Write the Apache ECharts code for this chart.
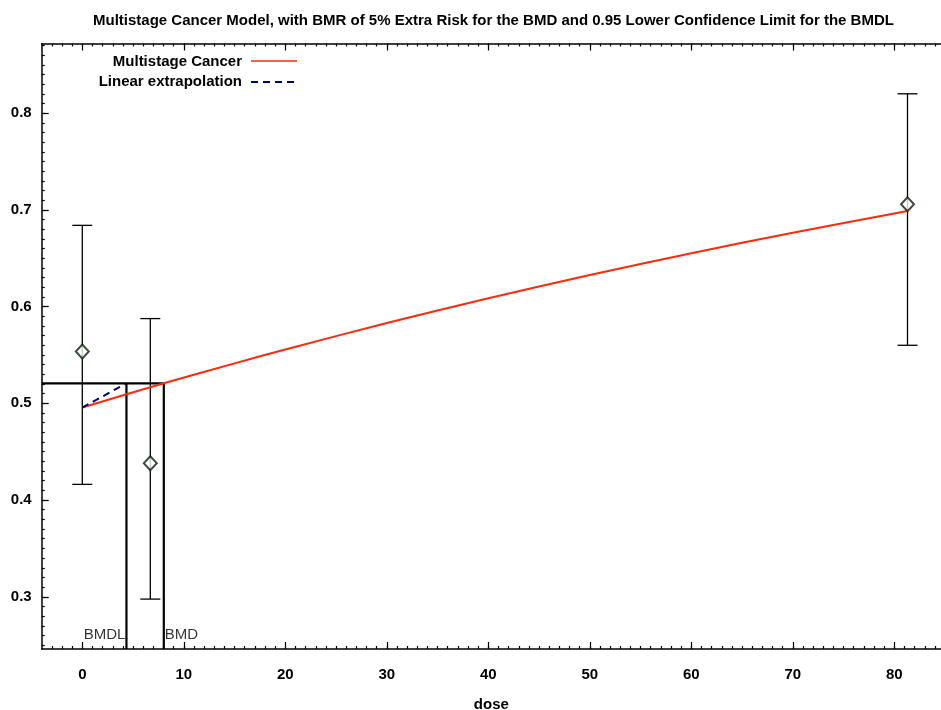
<!DOCTYPE html>
<html>
<head>
<meta charset="utf-8">
<script src="https://cdn.jsdelivr.net/npm/echarts@6/dist/echarts.min.js"></script>
<style>
html,body{margin:0;padding:0;background:#fff;}
#chart{width:941px;height:710px;}
</style>
</head>
<body>
<div id="chart"></div>
<script>
// ---- data ----
var titleText = 'Multistage Cancer Model, with BMR of 5% Extra Risk for the BMD and 0.95 Lower Confidence Limit for the BMDL';
var obsDose = [0, 6.7, 81.3];
var obsMean = [0.5535, 0.438, 0.7058];
var obsLow  = [0.4162, 0.2976, 0.560];
var obsHigh = [0.684, 0.5876, 0.820];
var modelDose = [0, 4.35, 8.03, 15, 20, 30, 40, 50, 60, 70, 81.3];
var modelResp = [0.4956, 0.5093, 0.5207, 0.5413, 0.5557, 0.5830, 0.6086, 0.6326, 0.6552, 0.6764, 0.6988];
var bmd = 8.03;
var bmdl = 4.35;
var bmrResp = 0.5207;
var extrapDose = [0, 4.35];
var extrapResp = [0.4956, 0.5207];
var xMin = -4, xMax = 84.6;
var yMin = 0.246, yMax = 0.872;
var xTickValues = [0, 10, 20, 30, 40, 50, 60, 70, 80];
var yTickValues = [0.3, 0.4, 0.5, 0.6, 0.7, 0.8];
var xMinorStep = 1, yMinorStep = 0.01;

var font = '"Liberation Sans", Arial, Helvetica, sans-serif';

function minorValues(lo, hi, step) {
  var out = [];
  var k0 = Math.ceil(lo / step - 1e-9), k1 = Math.floor(hi / step + 1e-9);
  for (var k = k0; k <= k1; k++) {
    var v = Math.round(k * step * 1e6) / 1e6;
    if (v > lo && v < hi) out.push(v);
  }
  return out;
}
var xMinor = minorValues(xMin, xMax, xMinorStep);
var yMinor = minorValues(yMin, yMax, yMinorStep);

var chart = echarts.init(document.getElementById('chart'), null, {renderer: 'canvas'});

function zip(a, b) { return a.map(function (v, i) { return [v, b[i]]; }); }

var errData = obsDose.map(function (d, i) { return [d, obsLow[i], obsHigh[i]]; });

var lineBlack = {color: '#000', width: 1.5};
var tickStyle = {color: '#000', width: 1.2};

function xAx(pos, major, withLabel, withName) {
  var ax = {
    type: 'value', min: xMin, max: xMax, position: pos, gridIndex: 0,
    axisLine: {show: major, onZero: false, lineStyle: lineBlack},
    axisTick: {show: true, inside: true, length: major ? 7 : 3, lineStyle: tickStyle,
      customValues: major ? xTickValues : xMinor},
    axisLabel: {show: withLabel, customValues: xTickValues, margin: 18,
      fontFamily: font, fontSize: 15, fontWeight: 'bold', color: '#000'},
    splitLine: {show: false}
  };
  if (withName) {
    ax.name = 'dose'; ax.nameLocation = 'middle'; ax.nameGap = 48;
    ax.nameTextStyle = {fontFamily: font, fontSize: 15, fontWeight: 'bold', color: '#000'};
  }
  return ax;
}
function yAx(major, withLabel) {
  return {
    type: 'value', min: yMin, max: yMax, position: 'left', gridIndex: 0,
    axisLine: {show: major, onZero: false, lineStyle: lineBlack},
    axisTick: {show: true, inside: true, length: major ? 7 : 3, lineStyle: tickStyle,
      customValues: major ? yTickValues : yMinor},
    axisLabel: {show: withLabel, customValues: yTickValues, margin: 10,
      fontFamily: font, fontSize: 15, fontWeight: 'bold', color: '#000',
      formatter: function (v) { return (Math.round(v * 10) / 10).toFixed(1); }},
    splitLine: {show: false}
  };
}

var option = {
  backgroundColor: '#ffffff',
  animation: false,
  title: {
    text: titleText,
    left: 88, top: 8,
    textStyle: {fontFamily: font, fontSize: 15, fontWeight: 'bold', color: '#000'}
  },
  grid: {left: 41.7, right: 0, top: 43.5, bottom: 61, containLabel: false, outerBoundsMode: 'none'},
  xAxis: [xAx('bottom', true, true, true), xAx('top', true, false, false),
          xAx('bottom', false, false, false), xAx('top', false, false, false)],
  yAxis: [yAx(true, true), yAx(false, false)],
  series: [
    {
      type: 'line', name: 'Multistage Cancer', data: zip(modelDose, modelResp),
      showSymbol: false, symbol: 'none', smooth: 0.3,
      lineStyle: {color: '#ff2a0a', width: 2}, z: 5
    },
    {
      type: 'line', name: 'Linear extrapolation', data: zip(extrapDose, extrapResp),
      showSymbol: false, symbol: 'none',
      lineStyle: {color: '#000070', width: 2, type: [7, 5]}, z: 6
    },
    {
      type: 'line', name: 'bmdLines', data: [[xMin, bmrResp], [bmd, bmrResp], [bmd, yMin]],
      showSymbol: false, symbol: 'none',
      lineStyle: {color: '#000', width: 2.2}, z: 4
    },
    {
      type: 'line', name: 'bmdlLine', data: [[bmdl, bmrResp], [bmdl, yMin]],
      showSymbol: false, symbol: 'none',
      lineStyle: {color: '#000', width: 2.2}, z: 4
    },
    {
      type: 'custom', name: 'errorBars', data: errData, z: 3,
      renderItem: function (params, api) {
        var x = api.value(0);
        var lo = api.coord([x, api.value(1)]);
        var hi = api.coord([x, api.value(2)]);
        var hw = 10;
        var st = {stroke: '#000', lineWidth: 1.3, fill: null};
        return {
          type: 'group',
          children: [
            {type: 'line', shape: {x1: lo[0], y1: lo[1], x2: hi[0], y2: hi[1]}, style: st},
            {type: 'line', shape: {x1: lo[0] - hw, y1: lo[1], x2: lo[0] + hw, y2: lo[1]}, style: st},
            {type: 'line', shape: {x1: hi[0] - hw, y1: hi[1], x2: hi[0] + hw, y2: hi[1]}, style: st}
          ]
        };
      }
    },
    {
      type: 'scatter', name: 'observed', data: zip(obsDose, obsMean),
      symbol: 'diamond', symbolSize: [13, 14],
      itemStyle: {color: '#ffffff', borderColor: '#0a200a', borderWidth: 2}, z: 10
    },
    {
      type: 'scatter', name: 'labels', symbolSize: 0, z: 10,
      data: [
        {value: [bmdl, 0.2608], label: {show: true, formatter: 'BMDL', position: 'left', distance: 1}},
        {value: [bmd, 0.2608], label: {show: true, formatter: 'BMD', position: 'right', distance: 1}}
      ],
      label: {fontFamily: font, fontSize: 15, color: '#000'}
    }
  ],
  graphic: [
    {type: 'text', x: 242, y: 62, style: {text: 'Multistage Cancer', align: 'right', verticalAlign: 'middle',
      font: 'bold 15px ' + font, fill: '#000'}},
    {type: 'line', shape: {x1: 251, y1: 61, x2: 297, y2: 61}, style: {stroke: '#ff2a0a', lineWidth: 1.5}},
    {type: 'text', x: 242, y: 82, style: {text: 'Linear extrapolation', align: 'right', verticalAlign: 'middle',
      font: 'bold 15px ' + font, fill: '#000'}},
    {type: 'line', shape: {x1: 251, y1: 82, x2: 297, y2: 82}, style: {stroke: '#000070', lineWidth: 1.8, lineDash: [7, 5]}}
  ]
};
chart.setOption(option);
</script>
</body>
</html>
